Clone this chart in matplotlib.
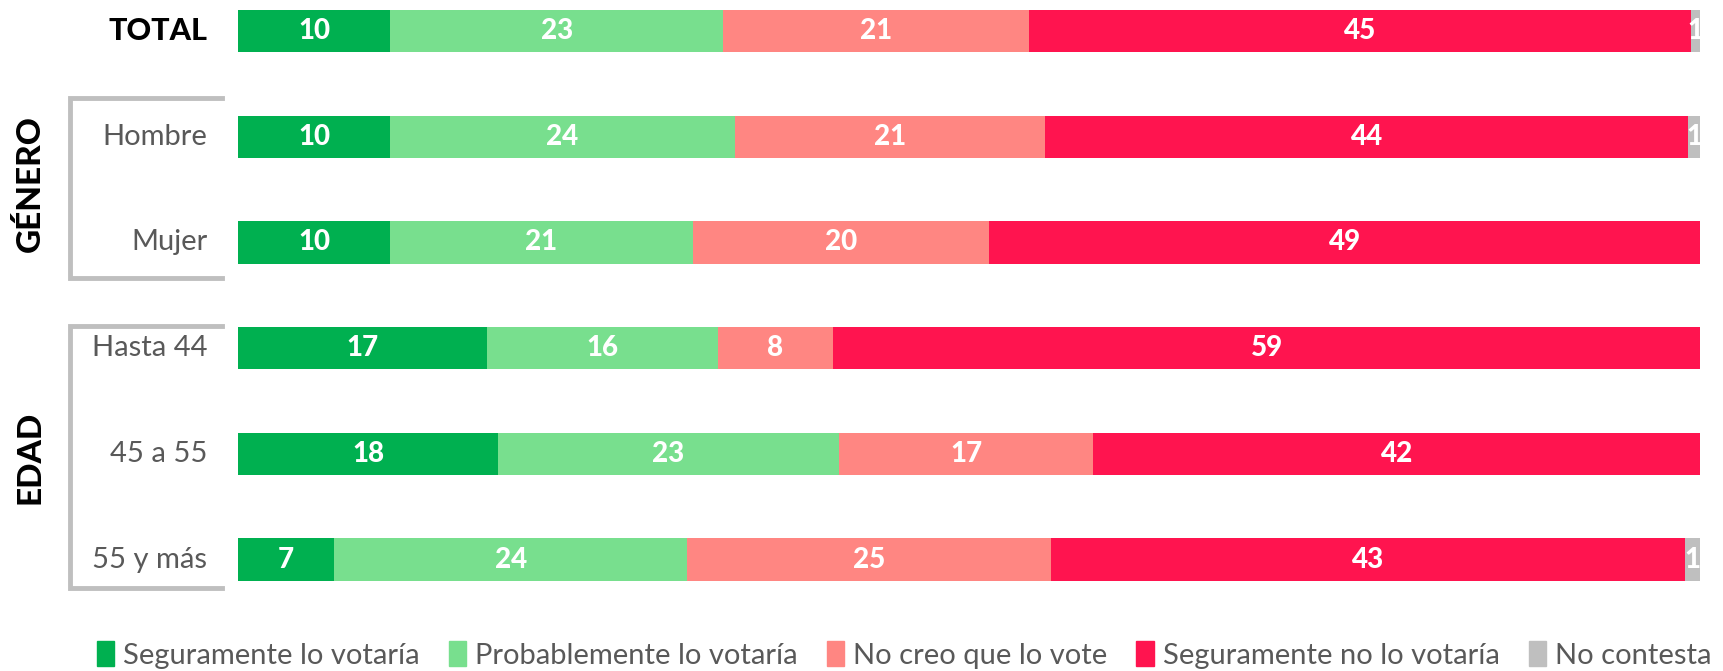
import numpy as np
import matplotlib.pyplot as plt
from matplotlib.lines import Line2D
from matplotlib.patches import Patch

plt.rcParams['font.family'] = ['Lato', 'DejaVu Sans']

# data (bar shares in %, labels shown rounded)
rows = ['TOTAL', 'Hombre', 'Mujer', 'Hasta 44', '45 a 55', '55 y más']
series = ['Seguramente lo votaría', 'Probablemente lo votaría',
          'No creo que lo vote', 'Seguramente no lo votaría', 'No contesta']
seg_lo_votaria = [10.4, 10.4, 10.4, 17.0, 17.8, 6.6]
prob_lo_votaria = [22.8, 23.6, 20.7, 15.8, 23.3, 24.1]
no_creo = [20.9, 21.2, 20.3, 7.9, 17.4, 24.9]
seg_no_votaria = [45.3, 44.0, 48.6, 59.3, 41.5, 43.4]
no_contesta = [0.6, 0.8, 0.0, 0.0, 0.0, 1.0]

colors = ['#00b050', '#78df8e', '#ff8682', '#ff144f', '#bfbfbf']

W, H = 1723, 671
fig = plt.figure(figsize=(W / 100, H / 100), dpi=100)
ax = fig.add_axes([238 / W, 1 - 600 / H, (1700 - 238) / W, 600 / H])

values = [seg_lo_votaria, prob_lo_votaria, no_creo, seg_no_votaria, no_contesta]
y = np.arange(len(rows))
left = np.zeros(len(rows))
for vals, col, name in zip(values, colors, series):
    vals = np.array(vals, dtype=float)
    ax.barh(y, vals, left=left, height=0.4, color=col, label=name)
    for yi, v, l in zip(y, vals, left):
        if v > 0:
            ax.text(l + v / 2, yi, f'{v:.0f}', ha='center', va='center',
                    color='white', fontsize=20, fontweight='black')
    left += vals

ax.set_xlim(0, 100)
ax.set_ylim(5.383, -0.293)
ax.axis('off')

# row labels
for yi, name in zip(y, rows):
    if name == 'TOTAL':
        ax.text(-2.1, yi, name, ha='right', va='center', fontsize=22,
                fontweight='black', color='black')
    else:
        ax.text(-2.1, yi, name, ha='right', va='center', fontsize=21,
                color='#595959')

# group brackets
def bracket(y0, y1):
    xs = [222 / W, 70 / W, 70 / W, 222 / W]
    ys = [1 - y0 / H, 1 - y0 / H, 1 - y1 / H, 1 - y1 / H]
    fig.add_artist(Line2D(xs, ys, color='#bfbfbf', lw=3.5,
                          solid_joinstyle='miter'))

bracket(98, 278)
bracket(326, 588)
fig.text(30 / W, 1 - 184 / H, 'GÉNERO', rotation=90, ha='center', va='center',
         fontsize=24, fontweight='black', color='black')
fig.text(30 / W, 1 - 457 / H, 'EDAD', rotation=90, ha='center', va='center',
         fontsize=24, fontweight='black', color='black')

# legend
handles = [Patch(color=c) for c in colors]
fig.legend(handles, series, loc='center', ncol=5,
           bbox_to_anchor=(904 / W, 1 - 655 / H), frameon=False,
           fontsize=21, labelcolor='#595959', handlelength=0.6,
           handleheight=0.9, handletextpad=0.3, columnspacing=1.0)

fig.savefig('out.png', dpi=100)
